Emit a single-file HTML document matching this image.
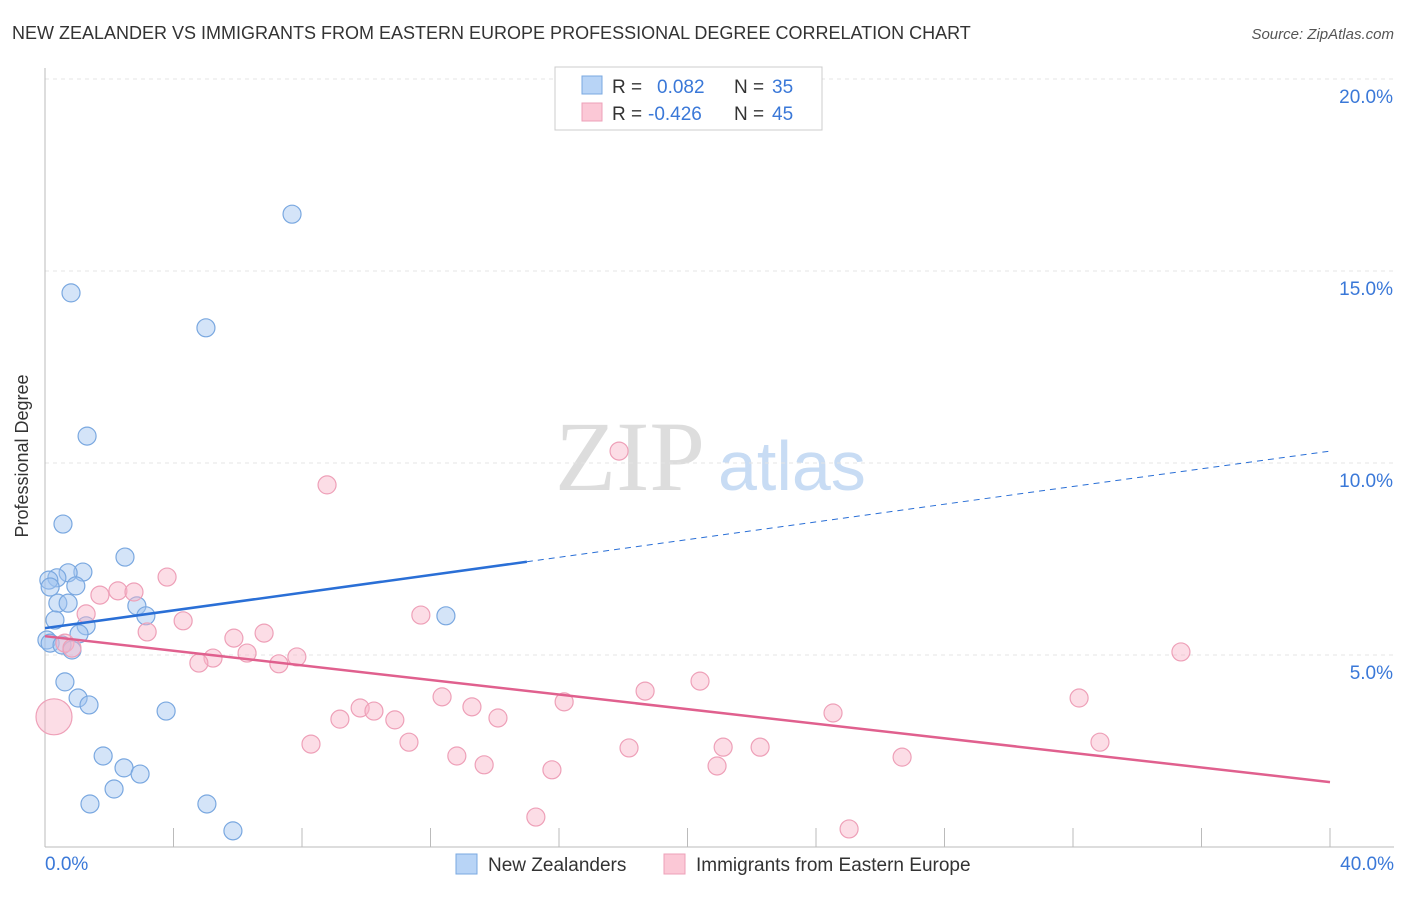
<!DOCTYPE html>
<html><head><meta charset="utf-8"><style>
body{margin:0;background:#fff;font-family:"Liberation Sans",sans-serif;}
</style></head><body>
<svg width="1406" height="892" xmlns="http://www.w3.org/2000/svg" font-family="Liberation Sans, sans-serif">
<text x="12" y="39" font-size="18" fill="#333">NEW ZEALANDER VS IMMIGRANTS FROM EASTERN EUROPE PROFESSIONAL DEGREE CORRELATION CHART</text>
<text x="1394" y="39" font-size="15" fill="#555" font-style="italic" text-anchor="end">Source: ZipAtlas.com</text>
<text x="28" y="456" font-size="18" fill="#333" text-anchor="middle" transform="rotate(-90 28 456)">Professional Degree</text>
<text x="555" y="490" font-size="100" fill="#ddd" font-family="Liberation Serif, serif">ZIP</text>
<text x="718" y="490" font-size="70" fill="#c8dcf4">atlas</text>
<g id="grid"></g>
<g id="axes"></g>
<g id="marks"></g>
<g>
<rect x="555" y="67" width="267" height="63" fill="#fff" stroke="#ccc"/>
<rect x="582" y="76" width="20" height="18" fill="#b8d4f6" stroke="#7aa8e0"/>
<rect x="582" y="103" width="20" height="18" fill="#fbc8d6" stroke="#eea0b8"/>
<text x="612" y="93" font-size="19" fill="#333">R = </text><text x="657" y="93" font-size="19" fill="#3a78d8">0.082</text>
<text x="734" y="93" font-size="19" fill="#333">N = </text><text x="772" y="93" font-size="19" fill="#3a78d8">35</text>
<text x="612" y="120" font-size="19" fill="#333">R = </text><text x="648" y="120" font-size="19" fill="#3a78d8">-0.426</text>
<text x="734" y="120" font-size="19" fill="#333">N = </text><text x="772" y="120" font-size="19" fill="#3a78d8">45</text>
</g>
<g>
<rect x="456" y="854" width="21" height="20" fill="#b8d4f6" stroke="#7aa8e0"/>
<text x="488" y="871" font-size="19" fill="#333">New Zealanders</text>
<rect x="664" y="854" width="21" height="20" fill="#fbc8d6" stroke="#eea0b8"/>
<text x="696" y="871" font-size="19" fill="#333">Immigrants from Eastern Europe</text>
</g>
</svg>
<script>
const yTicks=[5,10,15,20];
const yTickLabels=["5.0%","10.0%","15.0%","20.0%"];
const xTickVals=[0,4,8,12,16,20,24,28,32,36,40];
const blueX=[7.69,0.81,5.01,1.31,0.56,2.49,1.18,0.72,0.37,0.12,0.16,0.96,0.40,0.72,2.86,3.14,12.48,0.31,1.28,1.06,0.06,0.16,0.53,0.84,0.62,1.03,1.37,3.77,1.81,2.46,2.96,2.15,1.40,5.04,5.85];
const blueY=[16.48,14.43,13.52,10.70,8.41,7.55,7.16,7.14,7.01,6.95,6.77,6.80,6.35,6.35,6.28,6.02,6.02,5.91,5.76,5.55,5.39,5.31,5.26,5.13,4.30,3.88,3.70,3.54,2.37,2.06,1.90,1.51,1.12,1.12,0.42];
const pinkX=[0.28,17.87,8.78,3.80,1.71,2.27,2.77,1.28,4.30,11.70,3.18,5.88,6.82,0.62,0.84,6.29,5.23,4.79,7.84,7.28,35.36,18.68,20.39,32.19,12.36,16.16,9.81,10.24,13.29,24.53,9.18,10.89,14.10,8.28,11.33,32.84,18.18,21.11,22.26,12.82,13.67,20.92,26.68,15.78,15.28,25.03];
const pinkY=[3.39,10.31,9.43,7.03,6.56,6.67,6.64,6.07,5.89,6.04,5.60,5.44,5.57,5.31,5.18,5.05,4.92,4.79,4.95,4.77,5.08,4.06,4.32,3.88,3.91,3.78,3.62,3.54,3.65,3.49,3.33,3.31,3.36,2.68,2.73,2.73,2.58,2.60,2.60,2.37,2.14,2.11,2.34,2.01,0.78,0.47];
const blueTrend=[5.70,10.31]; // at x=0 and x=40
const blueSolidEnd=15;
const pinkTrend=[5.49,1.69];
const NS="http://www.w3.org/2000/svg";
const xs=v=>45+v*(1285/40);
const ys=v=>847-v*38.4;
function mk(t,a,p){const e=document.createElementNS(NS,t);for(const k in a)e.setAttribute(k,a[k]);p.appendChild(e);return e;}
const grid=document.getElementById('grid'),axes=document.getElementById('axes'),marks=document.getElementById('marks');
yTicks.forEach((v,i)=>{
 const l=mk('line',{x1:45,x2:1394,y1:ys(v),y2:ys(v),stroke:'#e4e4e4','stroke-dasharray':'4,4'},grid);
 
 
 const t=mk('text',{x:1393,y:ys(v)+24,'font-size':19,fill:'#3a78d8','text-anchor':'end'},axes);
 t.textContent=yTickLabels[i];
 
 
});
const ax=mk('line',{x1:45,x2:45,y1:68,y2:847,stroke:'#bbb'},axes);


const bx=mk('line',{x1:45,x2:1394,y1:847,y2:847,stroke:'#bbb'},axes);


xTickVals.forEach(v=>{const t=mk('line',{x1:xs(v),x2:xs(v),y1:828,y2:847,stroke:'#bbb'},axes);
 
 });
const xl0=mk('text',{x:45,y:870,'font-size':19,fill:'#3a78d8'},axes);xl0.textContent='0.0%';


const xl1=mk('text',{x:1394,y:870,'font-size':19,fill:'#3a78d8','text-anchor':'end'},axes);xl1.textContent='40.0%';


blueX.forEach((x,i)=>{const c=mk('circle',{cx:xs(x),cy:ys(blueY[i]),r:9,fill:'rgba(160,196,240,0.45)',stroke:'#7aa8e0','stroke-width':1.2},marks);
 
 });
pinkX.forEach((x,i)=>{const c=mk('circle',{cx:xs(x),cy:ys(pinkY[i]),r:i===0?18:9,fill:'rgba(248,180,200,0.45)',stroke:'#eea0b8','stroke-width':1.2},marks);
 
 });
const bAt=x=>blueTrend[0]+(blueTrend[1]-blueTrend[0])*x/40;
const b1=mk('line',{x1:xs(0),y1:ys(bAt(0)),x2:xs(blueSolidEnd),y2:ys(bAt(blueSolidEnd)),stroke:'#2a6fd6','stroke-width':2.5},marks);


const b2=mk('line',{x1:xs(blueSolidEnd),y1:ys(bAt(blueSolidEnd)),x2:xs(40),y2:ys(bAt(40)),stroke:'#2a6fd6','stroke-width':1,'stroke-dasharray':'6,5'},marks);


const p1=mk('line',{x1:xs(0),y1:ys(pinkTrend[0]),x2:xs(40),y2:ys(pinkTrend[1]),stroke:'#e0608e','stroke-width':2.5},marks);


</script>
</body></html>
